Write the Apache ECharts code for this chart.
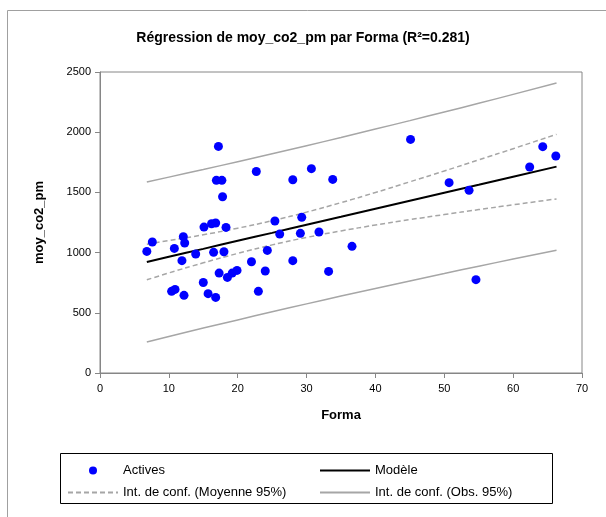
<!DOCTYPE html>
<html>
<head>
<meta charset="utf-8">
<script src="https://cdn.jsdelivr.net/npm/echarts@6/dist/echarts.min.js"></script>
<style>
  html, body { margin: 0; padding: 0; background: #fff; }
  #main { width: 606px; height: 517px; }
</style>
</head>
<body>
<div id="main"></div>
<script>
// points: Forma / moy_co2_pm
var formaX = [6.8, 7.6, 10.8, 10.4, 10.9, 12.1, 12.3, 11.9, 12.2, 13.9,
  15.1, 15.0, 15.7, 16.2, 16.8, 16.5, 16.8, 17.2, 16.9, 17.7,
  17.8, 18.3, 18.0, 17.3, 18.5, 19.2, 19.9, 22.0, 22.7, 23.0,
  24.0, 24.3, 25.4, 26.1, 28.0, 28.0, 29.3, 29.1, 30.7, 31.8,
  33.2, 33.8, 36.6, 45.1, 50.7, 53.6, 54.6, 62.4, 64.3, 66.2];
var co2Y = [1010, 1088, 1035, 678, 694, 1132, 1080, 933, 645, 988,
  1212, 752, 659, 1240, 1246, 1002, 628, 1882, 1600, 1600,
  1464, 1209, 1007, 830, 794, 830, 852, 924, 1674, 678,
  847, 1018, 1262, 1154, 1605, 933, 1293, 1160, 1697, 1171,
  844, 1608, 1052, 1940, 1581, 1517, 775, 1711, 1880, 1802];

// model line + bands, read at a few x positions
var bandX = [6.8, 10, 15, 20, 25, 30, 35, 40, 45, 50, 55, 60, 66.3];
var modelY = [922, 965, 1031, 1098, 1164, 1231, 1297, 1364, 1430, 1497, 1563, 1630, 1714];
var meanUp = [1070, 1100, 1148, 1203, 1265, 1336, 1415, 1499, 1588, 1678, 1770, 1863, 1982];
var meanLo = [774, 831, 915, 993, 1064, 1126, 1180, 1229, 1274, 1316, 1357, 1397, 1446];
var obsUp = [1586, 1627, 1690, 1755, 1821, 1888, 1956, 2026, 2096, 2168, 2240, 2314, 2408];
var obsLo = [258, 304, 373, 441, 508, 574, 639, 702, 765, 826, 887, 946, 1019];

var xTicks = [0, 70, 10];
var yTicks = [0, 2500, 500];

function pairs(xs, ys) {
  var out = [];
  for (var i = 0; i < xs.length; i++) out.push([xs[i], ys[i]]);
  return out;
}

var myChart = echarts.init(document.getElementById('main'));
var grey = '#a6a6a6';

// legend glyphs drawn as paths (plain line / dashes)
var solidIcon = 'path://M0 0H50V2H0Z';
var dashIcon = 'path://M0 0H5V2H0Z M8 0H13V2H8Z M16 0H21V2H16Z M24 0H29V2H24Z M32 0H37V2H32Z M40 0H45V2H40Z M48 0H50V2H48Z';

function lineSeries(name, ys, color, width, type) {
  return {
    name: name,
    type: 'line',
    data: pairs(bandX, ys),
    showSymbol: false,
    symbol: 'none',
    smooth: true,
    lineStyle: { color: color, width: width, type: type },
    itemStyle: { color: color },
    z: 2,
    silent: true
  };
}

function legendItem(name, left, top, icon, w, h) {
  return {
    data: [{ name: name, icon: icon }],
    left: left,
    top: top,
    itemWidth: w,
    itemHeight: h,
    itemGap: 0,
    padding: 0,
    textStyle: { fontFamily: 'Liberation Sans', fontSize: 13, color: '#000' },
    selectedMode: false
  };
}

var option = {
  animation: false,
  backgroundColor: '#fff',
  title: {
    text: 'Régression de moy_co2_pm par Forma (R²=0.281)',
    left: 'center',
    top: 26,
    textStyle: { fontFamily: 'Liberation Sans', fontSize: 14, fontWeight: 'bold', color: '#000' }
  },
  graphic: [{
    type: 'rect',
    shape: { x: 7.5, y: 10.5, width: 620, height: 540 },
    style: { fill: null, stroke: '#a0a0a0', lineWidth: 1 },
    silent: true
  }, {
    type: 'rect',
    shape: { x: 60.5, y: 453.5, width: 492, height: 50 },
    style: { fill: null, stroke: '#000', lineWidth: 1 },
    silent: true
  }],
  legend: [
    legendItem('Actives', 89, 464, 'circle', 50, 8),
    legendItem('Modèle', 320, 464, solidIcon, 50, 2),
    legendItem('Int. de conf. (Moyenne 95%)', 68, 486, dashIcon, 50, 2),
    legendItem('Int. de conf. (Obs. 95%)', 320, 486, solidIcon, 50, 2)
  ],
  grid: {
    left: 100, right: 24, top: 72, bottom: 144,
    show: true, borderColor: '#868686', borderWidth: 1
  },
  xAxis: {
    type: 'value',
    min: xTicks[0], max: xTicks[1], interval: xTicks[2],
    name: 'Forma',
    nameLocation: 'middle',
    nameGap: 36,
    nameTextStyle: { fontFamily: 'Liberation Sans', fontSize: 13, fontWeight: 'bold', color: '#000' },
    axisLine: { lineStyle: { color: '#868686' } },
    axisTick: { show: true, inside: false, length: 5, lineStyle: { color: '#868686' } },
    axisLabel: { fontFamily: 'Liberation Sans', fontSize: 11, color: '#000', margin: 10 },
    splitLine: { show: false }
  },
  yAxis: {
    type: 'value',
    min: yTicks[0], max: yTicks[1], interval: yTicks[2],
    name: 'moy_co2_pm',
    nameLocation: 'middle',
    nameGap: 54,
    nameRotate: 90,
    nameTextStyle: { fontFamily: 'Liberation Sans', fontSize: 13, fontWeight: 'bold', color: '#000' },
    axisLine: { show: true, lineStyle: { color: '#868686' } },
    axisTick: { show: true, inside: false, length: 5, lineStyle: { color: '#868686' } },
    axisLabel: {
      fontFamily: 'Liberation Sans', fontSize: 11, color: '#000', margin: 9,
      formatter: function(v) { return String(v); }
    },
    splitLine: { show: false }
  },
  series: [
    {
      name: 'Actives',
      type: 'scatter',
      data: pairs(formaX, co2Y),
      symbol: 'circle',
      symbolSize: 9,
      itemStyle: { color: '#0000ff', opacity: 1 },
      z: 3
    },
    lineSeries('Modèle', modelY, '#000', 2, 'solid'),
    lineSeries('Int. de conf. (Moyenne 95%)', meanUp, grey, 1.5, [5, 3]),
    lineSeries('Int. de conf. (Moyenne 95%)', meanLo, grey, 1.5, [5, 3]),
    lineSeries('Int. de conf. (Obs. 95%)', obsUp, grey, 1.5, 'solid'),
    lineSeries('Int. de conf. (Obs. 95%)', obsLo, grey, 1.5, 'solid')
  ]
};

myChart.setOption(option);
</script>
</body>
</html>
